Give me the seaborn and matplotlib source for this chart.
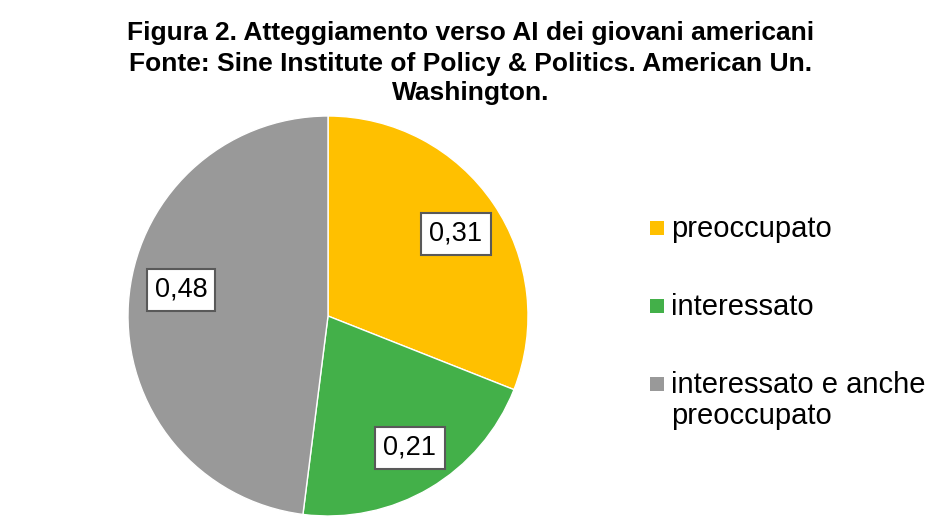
import matplotlib.pyplot as plt
from matplotlib.patches import Rectangle
import seaborn as sns

# dati
categorie = ['preoccupato', 'interessato', 'interessato e anche\npreoccupato']
valori = [0.31, 0.21, 0.48]
etichette = ['0,31', '0,21', '0,48']
colori = ['#FFC000', '#43B049', '#999999']

titolo = ['Figura 2. Atteggiamento verso AI dei giovani americani',
          'Fonte: Sine Institute of Policy & Politics. American Un.',
          'Washington.']

# posizione delle etichette (frazione del raggio), come nell'originale
pos_etichette = [(0.64, 0.41), (0.41, -0.66), (-0.735, 0.13)]

sns.set_theme(style='white')
plt.rcParams['font.family'] = ['Liberation Sans', 'DejaVu Sans']
plt.rcParams['text.color'] = 'black'

W, H = 945, 532
fig = plt.figure(figsize=(W / 100, H / 100), dpi=100)

# asse della torta: centro (328, 316), raggio 200 px
cx, cy, r = 328, 316, 200
ax = fig.add_axes([(cx - r) / W, (H - cy - r) / H, 2 * r / W, 2 * r / H])

wedges, _ = ax.pie(
    valori, colors=colori, startangle=90, counterclock=False,
    radius=1, wedgeprops=dict(edgecolor='white', linewidth=1),
)

for (x, y), lab in zip(pos_etichette, etichette):
    ax.text(x, y, lab, ha='center', va='center', fontsize=19.5,
            color='black',
            bbox=dict(boxstyle='square,pad=0.3', fc='white',
                      ec='#595959', lw=1.5))

ax.set_xlim(-1, 1)
ax.set_ylim(-1, 1)
ax.set_aspect('equal')
ax.axis('off')

# titolo, una riga alla volta
for riga, yb in zip(titolo, [40, 71, 100]):
    fig.text(471 / W, 1 - yb / H, riga, ha='center', va='baseline',
             fontsize=19, fontweight='bold')

# legenda disegnata a mano (marcatore allineato alla prima riga)
baselines = [237, 315, 393]
for col, lab, yb in zip(colori, categorie, baselines):
    fig.patches.append(Rectangle((650 / W, 1 - (yb - 2) / H), 14 / W, 14 / H,
                                 transform=fig.transFigure, facecolor=col,
                                 edgecolor='none'))
    for k, riga in enumerate(lab.split('\n')):
        fig.text(671 / W, 1 - (yb + 31 * k) / H, riga, ha='left',
                 va='baseline', fontsize=21)

fig.savefig('out.png', dpi=100)
